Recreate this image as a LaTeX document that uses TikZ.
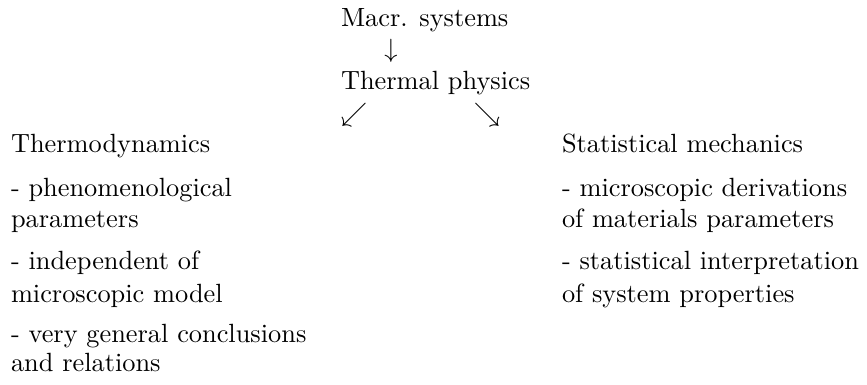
\documentclass[tikz,border=0pt]{standalone}
\begin{document}
\begin{tikzpicture}[x=0.3795pt,y=-0.3795pt,
  txt/.style={anchor=base west,inner sep=0pt,outer sep=0pt},
  arr/.style={inner sep=0pt,outer sep=0pt}]
\useasboundingbox (0,0) rectangle (867,385);
% top
\node[txt] (macr) at (341,27) {Macr. systems};
\node[arr] (down) at (391,51) {$\downarrow$};
\node[txt] (therm) at (341,90) {Thermal physics};
\node[arr] (sw) at (354,115) {$\swarrow$};
\node[arr] (se) at (487,115) {$\searrow$};
% left column
\node[txt] (td) at (11,153) {Thermodynamics};
\node[txt] (td1a) at (11,197) {- phenomenological};
\node[txt] (td1b) at (11,228) {parameters};
\node[txt] (td2a) at (11,270) {- independent of};
\node[txt] (td2b) at (11,303) {microscopic model};
\node[txt] (td3a) at (11,343) {- very general conclusions};
\node[txt] (td3b) at (11,372) {and relations};
% right column
\node[txt] (sm) at (562,153) {Statistical mechanics};
\node[txt] (sm1a) at (562,197) {- microscopic derivations};
\node[txt] (sm1b) at (562,228) {of materials parameters};
\node[txt] (sm2a) at (562,270) {- statistical interpretation};
\node[txt] (sm2b) at (562,303) {of system properties};
\end{tikzpicture}
\end{document}
